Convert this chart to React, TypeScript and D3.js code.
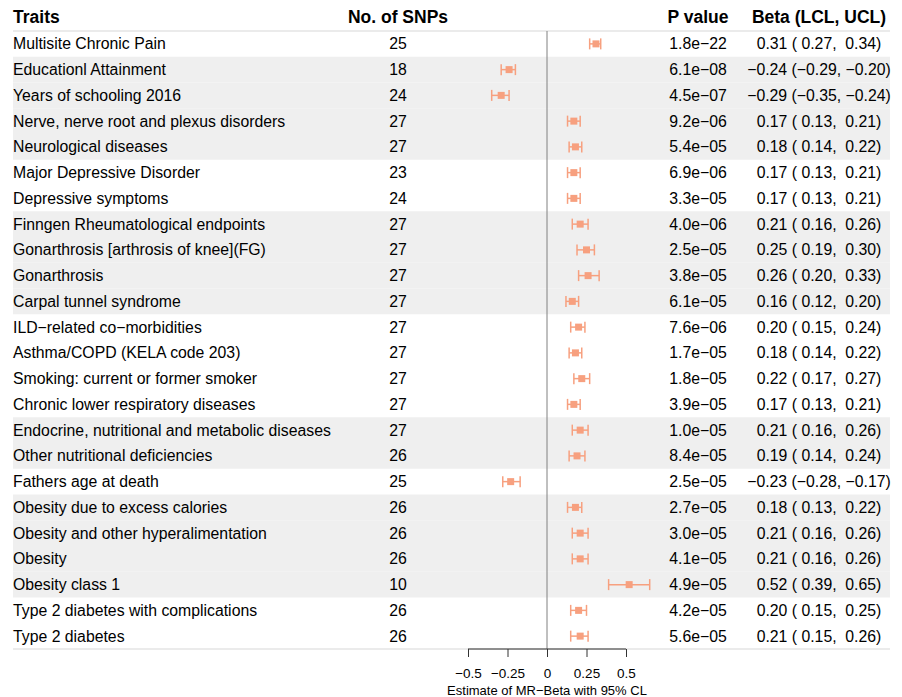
import React, { useRef, useEffect } from "react";
import * as d3 from "d3";

const W = 902;
const H = 697;

// table data, top to bottom
const traits = [
  "Multisite Chronic Pain",
  "Educationl Attainment",
  "Years of schooling 2016",
  "Nerve, nerve root and plexus disorders",
  "Neurological diseases",
  "Major Depressive Disorder",
  "Depressive symptoms",
  "Finngen Rheumatological endpoints",
  "Gonarthrosis [arthrosis of knee](FG)",
  "Gonarthrosis",
  "Carpal tunnel syndrome",
  "ILD\u2212related co\u2212morbidities",
  "Asthma/COPD (KELA code 203)",
  "Smoking: current or former smoker",
  "Chronic lower respiratory diseases",
  "Endocrine, nutritional and metabolic diseases",
  "Other nutritional deficiencies",
  "Fathers age at death",
  "Obesity due to excess calories",
  "Obesity and other hyperalimentation",
  "Obesity",
  "Obesity class 1",
  "Type 2 diabetes with complications",
  "Type 2 diabetes",
];
const nSnps = [25, 18, 24, 27, 27, 23, 24, 27, 27, 27, 27, 27, 27, 27, 27, 27, 26, 25, 26, 26, 26, 10, 26, 26];
const pValues = [
  "1.8e\u221222", "6.1e\u221208", "4.5e\u221207", "9.2e\u221206", "5.4e\u221205", "6.9e\u221206",
  "3.3e\u221205", "4.0e\u221206", "2.5e\u221205", "3.8e\u221205", "6.1e\u221205", "7.6e\u221206",
  "1.7e\u221205", "1.8e\u221205", "3.9e\u221205", "1.0e\u221205", "8.4e\u221205", "2.5e\u221205",
  "2.7e\u221205", "3.0e\u221205", "4.1e\u221205", "4.9e\u221205", "4.2e\u221205", "5.6e\u221205",
];
const beta = [0.31, -0.24, -0.29, 0.17, 0.18, 0.17, 0.17, 0.21, 0.25, 0.26, 0.16, 0.2, 0.18, 0.22, 0.17, 0.21, 0.19, -0.23, 0.18, 0.21, 0.21, 0.52, 0.2, 0.21];
const lcl = [0.27, -0.29, -0.35, 0.13, 0.14, 0.13, 0.13, 0.16, 0.19, 0.2, 0.12, 0.15, 0.14, 0.17, 0.13, 0.16, 0.14, -0.28, 0.13, 0.16, 0.16, 0.39, 0.15, 0.15];
const ucl = [0.34, -0.2, -0.24, 0.21, 0.22, 0.21, 0.21, 0.26, 0.3, 0.33, 0.2, 0.24, 0.22, 0.27, 0.21, 0.26, 0.24, -0.17, 0.22, 0.26, 0.26, 0.65, 0.25, 0.26];
// row groups for the background bands (odd groups are shaded)
const groups = [0, 1, 1, 1, 1, 2, 2, 3, 3, 3, 3, 4, 4, 4, 4, 5, 5, 6, 7, 7, 7, 7, 8, 8];
const xTicks = [-0.5, -0.25, 0, 0.25, 0.5];

const FONT = "'Liberation Sans', Arial, Helvetica, sans-serif";
const POINT = "#f7a07f";

const num = (v: number) => (v < 0 ? "\u2212" + Math.abs(v).toFixed(2) : v.toFixed(2));
const pad = (v: number) => (v < 0 ? num(v) : " " + num(v));

const App = () => {
  const svgRef = useRef<SVGSVGElement>(null);

  useEffect(() => {
    document.body.style.margin = "0";
    const svg = d3.select(svgRef.current);
    svg.selectAll("*").remove();

    const rows = traits.map((t, i) => ({
      trait: t,
      n: nSnps[i],
      p: pValues[i],
      b: beta[i],
      lo: lcl[i],
      hi: ucl[i],
      shaded: groups[i] % 2 === 1,
    }));

    const y = d3
      .scaleBand<number>()
      .domain(d3.range(rows.length))
      .range([31, 649]);
    const x = d3.scaleLinear().domain([-0.5, 0.5]).range([468, 626]);

    const left = 13;
    const right = 890;

    // background bands
    svg
      .append("g")
      .selectAll("rect")
      .data(rows.map((r, i) => ({ ...r, i })).filter((r) => r.shaded))
      .enter()
      .append("rect")
      .attr("x", left)
      .attr("y", (d) => y(d.i)!)
      .attr("width", right - left)
      .attr("height", y.bandwidth())
      .attr("fill", "#efefef");

    // header + bottom rules
    svg.append("line").attr("x1", left).attr("x2", right).attr("y1", 31).attr("y2", 31)
      .attr("stroke", "#ebebeb").attr("stroke-width", 2);
    svg.append("line").attr("x1", left).attr("x2", right).attr("y1", 649).attr("y2", 649)
      .attr("stroke", "#ebebeb").attr("stroke-width", 2);

    // headers
    const head = svg.append("g").attr("font-family", FONT).attr("font-weight", "bold")
      .attr("font-size", 17.5).attr("fill", "#000");
    head.append("text").attr("x", left).attr("y", 23).text("Traits");
    head.append("text").attr("x", 398).attr("y", 23).attr("text-anchor", "middle").text("No. of SNPs");
    head.append("text").attr("x", 698).attr("y", 23).attr("text-anchor", "middle").text("P value");
    head.append("text").attr("x", 819).attr("y", 23).attr("text-anchor", "middle").text("Beta (LCL, UCL)");

    // table text
    const body = svg.append("g").attr("font-family", FONT).attr("font-size", 15.8).attr("fill", "#000");
    const cy = (i: number) => y(i)! + y.bandwidth() / 2 + 5.5;
    rows.forEach((r, i) => {
      body.append("text").attr("x", left).attr("y", cy(i)).text(r.trait);
      body.append("text").attr("x", 398).attr("y", cy(i)).attr("text-anchor", "middle").text(r.n);
      body.append("text").attr("x", 698).attr("y", cy(i)).attr("text-anchor", "middle").text(r.p);
      body.append("text").attr("x", 819).attr("y", cy(i)).attr("text-anchor", "middle")
        .style("white-space", "pre")
        .text(`${num(r.b)} (${pad(r.lo)}, ${pad(r.hi)})`);
    });

    // zero line
    svg.append("line").attr("x1", x(0)).attr("x2", x(0)).attr("y1", 31).attr("y2", 649)
      .attr("stroke", "#808080").attr("stroke-width", 1);

    // CIs
    const ci = svg.append("g").attr("stroke", POINT).attr("stroke-width", 1.5);
    rows.forEach((r, i) => {
      const m = y(i)! + y.bandwidth() / 2;
      ci.append("line").attr("x1", x(r.lo)).attr("x2", x(r.hi)).attr("y1", m).attr("y2", m);
      ci.append("line").attr("x1", x(r.lo)).attr("x2", x(r.lo)).attr("y1", m - 5.5).attr("y2", m + 5.5);
      ci.append("line").attr("x1", x(r.hi)).attr("x2", x(r.hi)).attr("y1", m - 5.5).attr("y2", m + 5.5);
    });
    svg.append("g").selectAll("rect").data(rows).enter().append("rect")
      .attr("x", (d) => x(d.b) - 3.5)
      .attr("y", (d, i) => y(i)! + y.bandwidth() / 2 - 3.5)
      .attr("width", 7).attr("height", 7).attr("fill", POINT);

    // axis
    const axis = svg.append("g").attr("transform", "translate(0,649)")
      .call(
        d3.axisBottom(x).tickValues(xTicks).tickSize(8).tickPadding(11)
          .tickFormat((d) => {
            const v = +d;
            return v < 0 ? "\u2212" + String(Math.abs(v)) : String(v);
          })
      );
    axis.select(".domain").attr("stroke", "#333").attr("d", `M${x(-0.5)},0H${x(0.5)}`);
    axis.selectAll(".tick line").attr("stroke", "#333");
    axis.selectAll(".tick text").attr("font-family", FONT).attr("font-size", 13.5).attr("fill", "#000");

    svg.append("text").attr("x", x(0)).attr("y", 695).attr("text-anchor", "middle")
      .attr("font-family", FONT).attr("font-size", 13).attr("fill", "#000")
      .text("Estimate of MR\u2212Beta with 95% CL");
  }, []);

  return <svg ref={svgRef} width={W} height={H} style={{ display: "block", background: "#fff" }} />;
};

export default App;
